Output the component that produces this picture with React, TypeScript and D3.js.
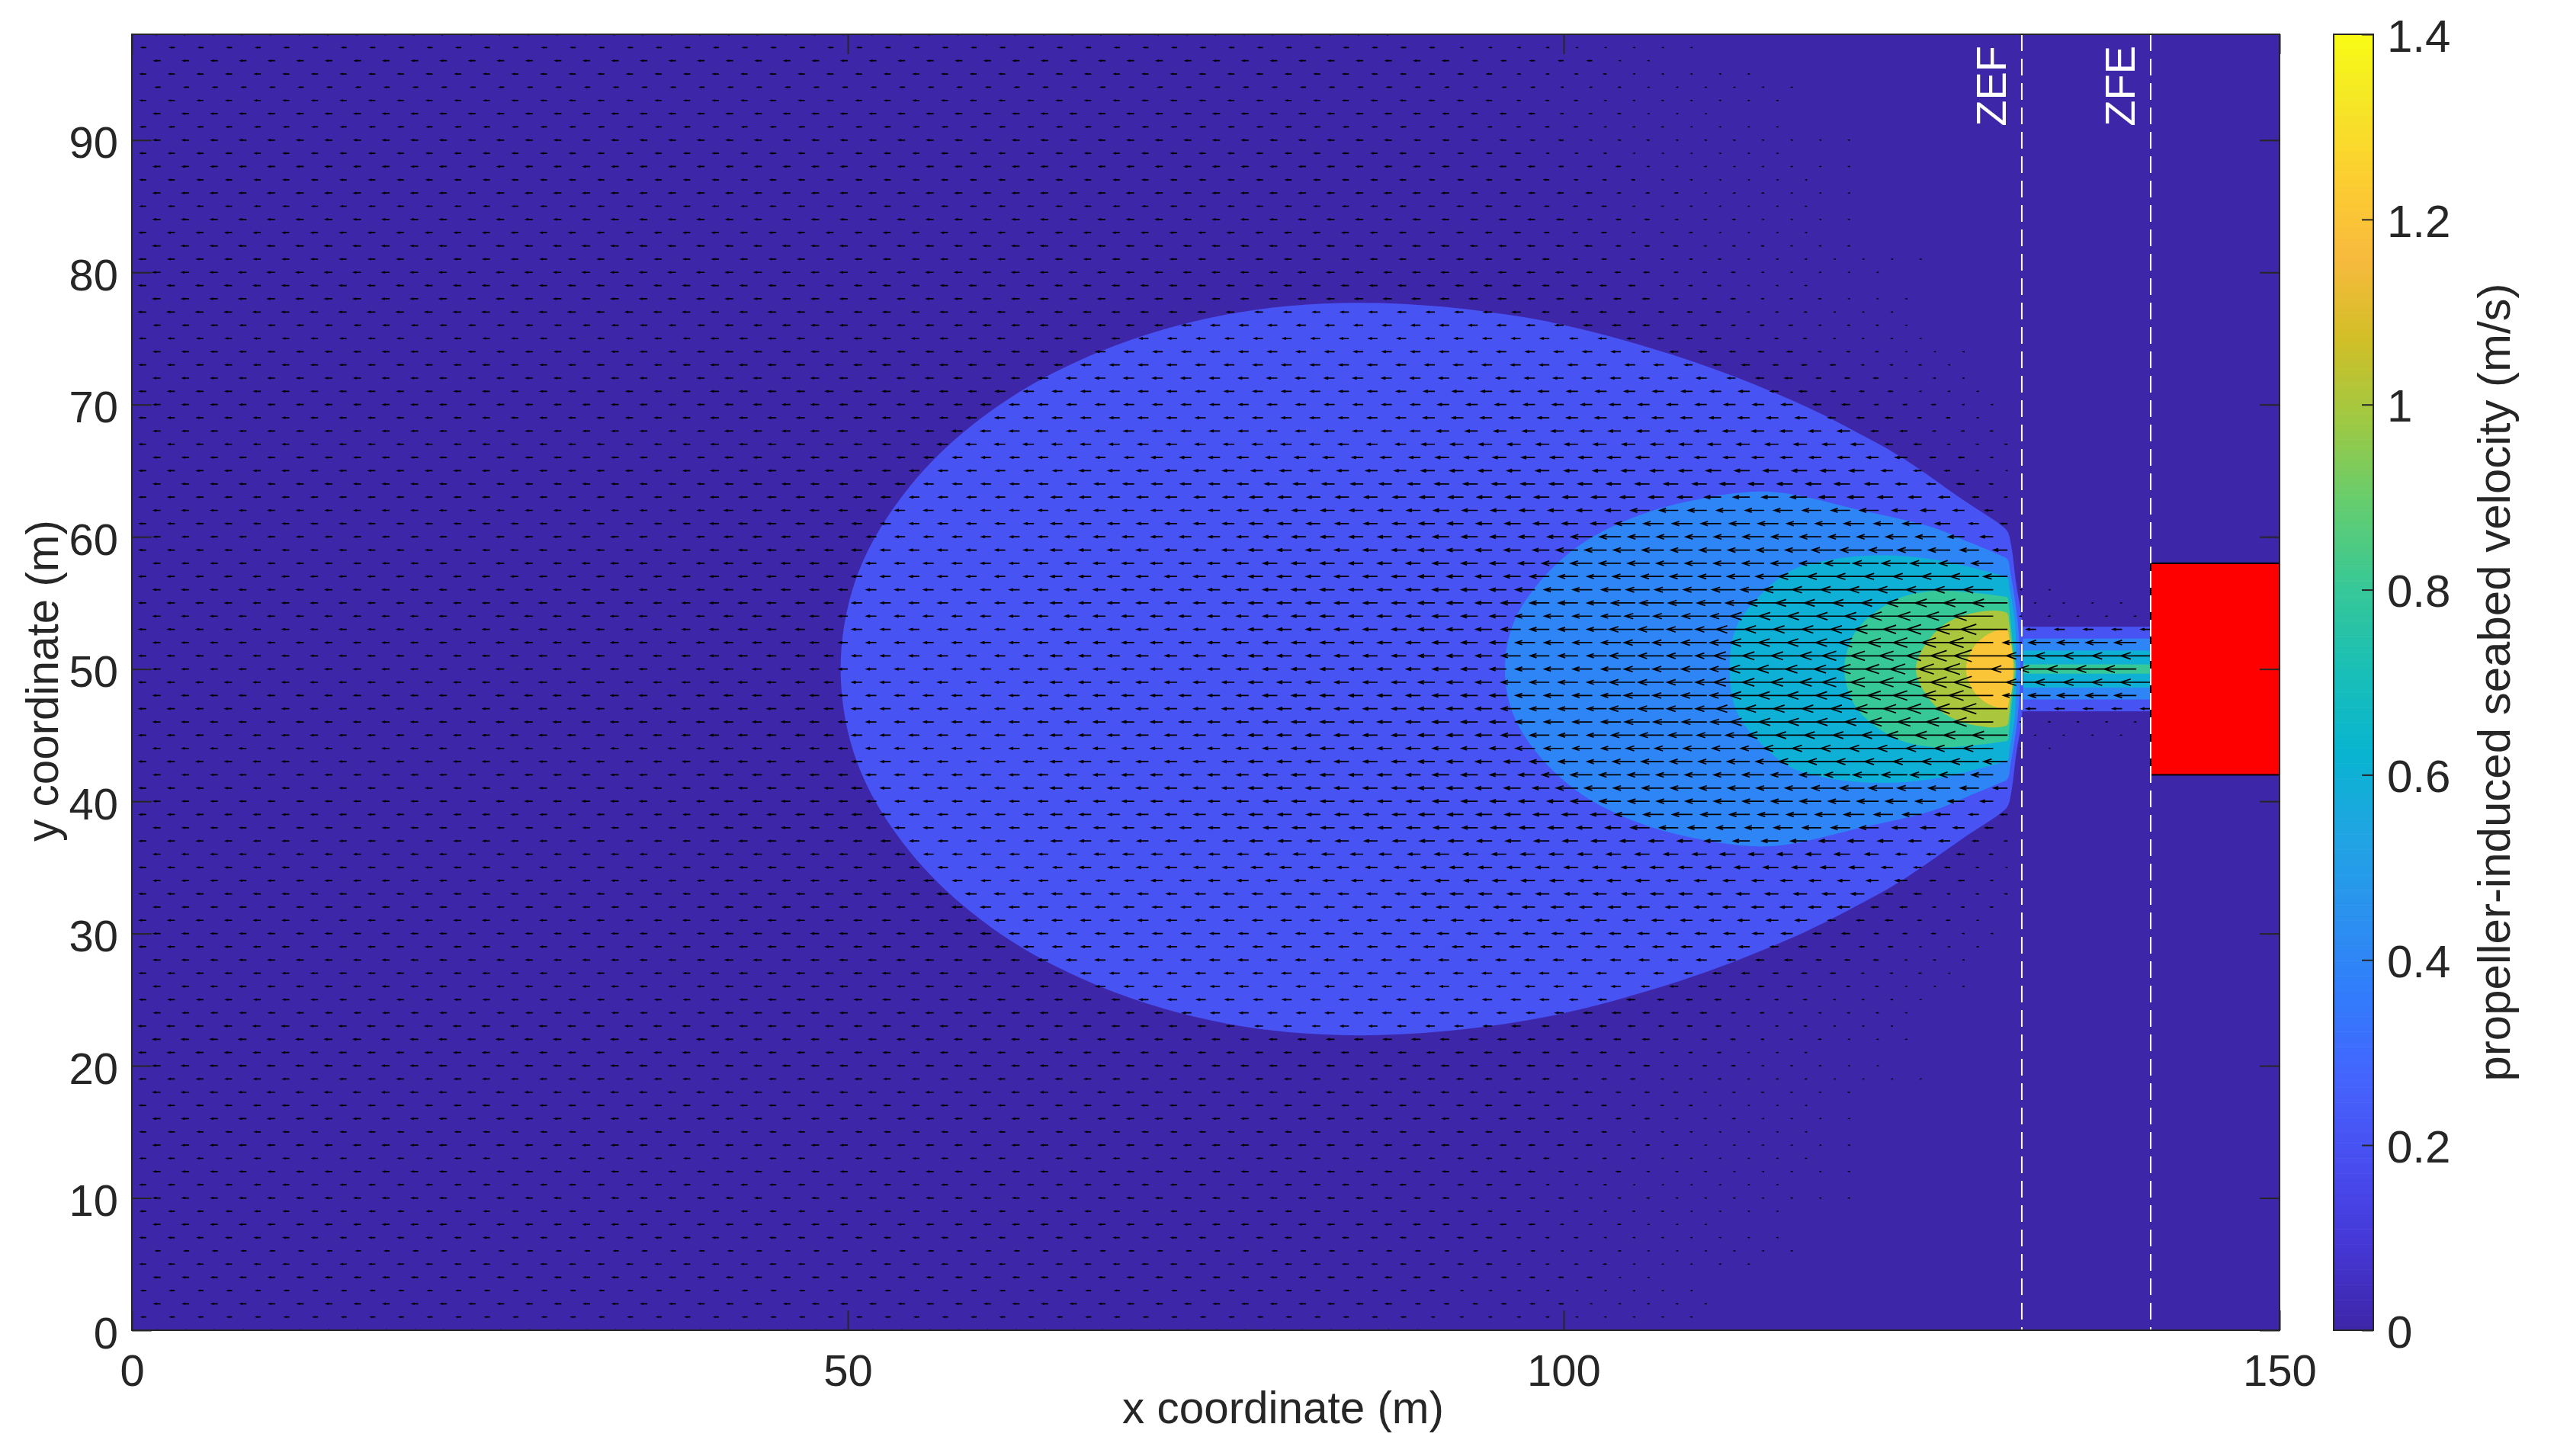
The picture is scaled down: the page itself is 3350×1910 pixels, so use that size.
import React, { useRef, useEffect } from "react";
import * as d3 from "d3";

const xTicks = [0, 50, 100, 150];
const yTicks = [0, 10, 20, 30, 40, 50, 60, 70, 80, 90];
const colorTicks = [0, 0.2, 0.4, 0.6, 0.8, 1, 1.2, 1.4];

// parula, sampled every 4th entry of the 64 colour map
const parula = ["#3E26A8", "#4537D5", "#484DF0", "#4563FD", "#327BFC", "#2B91EF", "#20A5E3", "#08B5D0", "#19BFB6", "#37C897", "#63CD6F", "#9DC943", "#D1BF27", "#F8BA3D", "#FCCF30", "#F5E924", "#F9FB14"];
const parulaPos = [0, 4, 8, 12, 16, 20, 24, 28, 32, 36, 40, 44, 48, 52, 56, 60, 63];

// contour outlines, upper half only (field is symmetric about y = 50): [x, y]
const contour02 = [[49.5, 50], [50.7, 57.2], [54.4, 63.9], [60.1, 69.6], [67.6, 74], [76.4, 76.8], [85.8, 77.7], [97.3, 76.6], [107.5, 73.8], [116, 70.3], [121, 67.6], [123.6, 66], [128.3, 62.5], [130.4, 61], [131, 60.4], [131.25, 59.4], [131.6, 56.5], [132, 53.7], [132.1, 50]];
const contour04 = [[95.9, 50], [96.5, 53.5], [98.4, 56.7], [101.3, 59.5], [105.2, 61.6], [109.7, 62.9], [114.5, 63.4], [120.8, 62], [125.8, 60.7], [128.3, 59.6], [130.5, 58.6], [131, 58.3], [131.2, 57.3], [131.7, 53.7], [131.9, 50]];
const contour06 = [[111.6, 50], [112, 53], [113.3, 55.1], [115.8, 57.4], [118.3, 58.2], [121.8, 58.6], [125.8, 58.3], [130.5, 57.1], [131, 56.9], [131.15, 56], [131.5, 53.7], [131.6, 50]];
const contour08 = [[119.6, 50], [120, 52], [120.8, 53.4], [123.3, 55.3], [125.8, 55.9], [128.3, 55.8], [130.6, 55.5], [131, 55.4], [131.1, 54.8], [131.4, 51.6], [131.6, 50]];
const contour10 = [[124.6, 50], [125.8, 52.6], [127.3, 53.8], [129.6, 54.4], [130.7, 54.35], [131, 54.2], [131.1, 53.6], [131.3, 51.6], [131.5, 50]];
const contour12 = [[128.1, 50], [128.6, 51.6], [129.6, 52.6], [130.7, 53], [131, 52.9], [131.1, 52.4], [131.3, 51.6], [131.4, 50]];
const contours: [number, number[][]][] = [[0.2, contour02], [0.4, contour04], [0.6, contour06], [0.8, contour08], [1, contour10], [1.2, contour12]];

// jet strip between ZEF and ZFE: [level, half width in m]
const stripBands = [[0.2, 3.2], [0.4, 2.3], [0.6, 1.4], [0.8, 0.35]];
const stripX = [131.9, 141];

// arrow speeds along each row, as runs of [last x of the run, speed in m/s].
// First row is y = 50, then y = 51 ... 100; rows below 50 mirror them.
const arrowRows: number[][][] = [
  [[25, 0.17], [40, 0.19], [50, 0.22], [64, 0.25], [78, 0.3], [90, 0.36], [96, 0.42], [104, 0.5], [112, 0.66], [120, 0.94], [125, 1.1], [128, 1.2], [130, 1.3], [132, 0.8], [140, 0.84]],
  [[25, 0.17], [40, 0.19], [50, 0.22], [64, 0.25], [78, 0.3], [90, 0.36], [96, 0.42], [104, 0.5], [112, 0.66], [120, 0.94], [125, 1.1], [127, 1.14], [129, 1.26], [131, 1.4], [141, 0.78]],
  [[25, 0.17], [40, 0.19], [50, 0.22], [64, 0.25], [78, 0.3], [90, 0.36], [96, 0.42], [104, 0.5], [112, 0.66], [120, 0.9], [125, 1.04], [128, 1.12], [130, 1.16], [132, 0.48], [140, 0.56]],
  [[25, 0.17], [40, 0.19], [50, 0.22], [64, 0.25], [78, 0.3], [90, 0.36], [96, 0.42], [104, 0.5], [112, 0.66], [121, 0.88], [126, 1], [129, 1.14], [131, 1.22], [141, 0.24]],
  [[25, 0.17], [40, 0.19], [50, 0.22], [64, 0.25], [78, 0.3], [90, 0.36], [96, 0.42], [104, 0.5], [112, 0.64], [122, 0.88], [128, 1], [130, 1.04], [140, 0.03]],
  [[25, 0.17], [40, 0.19], [50, 0.22], [64, 0.25], [78, 0.3], [90, 0.36], [96, 0.42], [104, 0.5], [113, 0.62], [123, 0.82], [131, 0.92], [139, 0.02]],
  [[25, 0.17], [40, 0.18], [50, 0.22], [64, 0.25], [78, 0.3], [90, 0.36], [97, 0.42], [104, 0.5], [114, 0.6], [122, 0.76], [130, 0.78], [134, 0.01]],
  [[25, 0.17], [40, 0.18], [50, 0.22], [64, 0.25], [78, 0.3], [90, 0.36], [98, 0.42], [104, 0.5], [116, 0.58], [129, 0.74], [131, 0.62]],
  [[25, 0.16], [40, 0.18], [50, 0.22], [64, 0.25], [78, 0.3], [90, 0.36], [99, 0.42], [118, 0.56], [128, 0.66], [130, 0.56]],
  [[25, 0.16], [40, 0.18], [50, 0.21], [64, 0.25], [78, 0.3], [90, 0.36], [100, 0.42], [117, 0.56], [125, 0.62], [127, 0.56], [129, 0.48], [131, 0.36]],
  [[25, 0.16], [40, 0.18], [50, 0.21], [64, 0.24], [78, 0.29], [90, 0.35], [101, 0.41], [124, 0.55], [126, 0.52], [128, 0.42], [130, 0.32]],
  [[40, 0.16], [50, 0.21], [64, 0.24], [78, 0.29], [90, 0.34], [103, 0.4], [121, 0.52], [125, 0.48], [127, 0.38], [129, 0.24], [131, 0.16]],
  [[40, 0.16], [51, 0.21], [64, 0.24], [78, 0.28], [90, 0.34], [105, 0.39], [122, 0.48], [126, 0.38], [128, 0.28], [130, 0.2]],
  [[40, 0.16], [51, 0.2], [64, 0.23], [78, 0.28], [90, 0.33], [110, 0.38], [121, 0.42], [123, 0.38], [125, 0.32], [127, 0.28], [129, 0.14], [131, 0.06]],
  [[40, 0.16], [52, 0.19], [66, 0.23], [78, 0.27], [90, 0.31], [110, 0.36], [120, 0.39], [122, 0.34], [124, 0.28], [126, 0.22], [128, 0.18], [130, 0.08]],
  [[40, 0.16], [53, 0.19], [66, 0.23], [90, 0.29], [110, 0.34], [121, 0.38], [123, 0.28], [125, 0.18], [127, 0.12], [129, 0.05], [131, 0.015]],
  [[40, 0.16], [54, 0.19], [70, 0.23], [90, 0.28], [106, 0.34], [124, 0.3], [128, 0.14], [130, 0.05]],
  [[40, 0.16], [55, 0.19], [90, 0.26], [122, 0.33], [126, 0.18], [131, 0.05]],
  [[40, 0.16], [56, 0.19], [90, 0.25], [120, 0.31], [125, 0.17], [130, 0.06]],
  [[40, 0.16], [57, 0.19], [90, 0.25], [118, 0.29], [123, 0.18], [128, 0.08], [130, 0.03]],
  [[40, 0.16], [59, 0.19], [90, 0.24], [116, 0.28], [121, 0.19], [127, 0.09], [130, 0.03]],
  [[40, 0.16], [60, 0.19], [90, 0.24], [113, 0.27], [118, 0.19], [124, 0.1], [129, 0.03]],
  [[40, 0.16], [62, 0.19], [110, 0.25], [116, 0.19], [122, 0.11], [127, 0.04], [128, 0.02]],
  [[40, 0.16], [65, 0.19], [108, 0.24], [113, 0.19], [119, 0.12], [125, 0.05], [128, 0.02]],
  [[40, 0.16], [67, 0.18], [104, 0.23], [110, 0.19], [116, 0.13], [122, 0.06], [128, 0.02]],
  [[40, 0.15], [70, 0.18], [100, 0.22], [106, 0.19], [112, 0.14], [118, 0.07], [124, 0.03], [126, 0.015]],
  [[40, 0.15], [73, 0.18], [96, 0.22], [104, 0.2], [110, 0.15], [116, 0.08], [122, 0.04], [124, 0.02]],
  [[84, 0.18], [98, 0.2], [106, 0.16], [112, 0.11], [118, 0.05], [124, 0.02]],
  [[84, 0.18], [96, 0.2], [106, 0.16], [112, 0.1], [118, 0.05], [125, 0.02]],
  [[86, 0.17], [98, 0.18], [106, 0.15], [112, 0.07], [118, 0.03]],
  [[90, 0.18], [100, 0.18], [106, 0.13], [112, 0.08], [118, 0.03], [122, 0.015]],
  [[88, 0.16], [100, 0.15], [106, 0.1], [112, 0.05], [118, 0.03], [125, 0.015]],
  [[92, 0.18], [102, 0.17], [108, 0.1], [114, 0.05], [120, 0.03]],
  [[88, 0.16], [98, 0.15], [104, 0.11], [110, 0.06], [118, 0.02]],
  [[90, 0.17], [100, 0.16], [106, 0.1], [112, 0.05], [120, 0.02]],
  [[88, 0.14], [98, 0.14], [104, 0.1], [110, 0.04], [118, 0.02]],
  [[92, 0.17], [102, 0.14], [108, 0.07], [114, 0.03], [120, 0.02]],
  [[90, 0.14], [99, 0.12], [105, 0.07], [110, 0.03], [118, 0.015]],
  [[88, 0.16], [98, 0.15], [104, 0.1], [110, 0.04], [120, 0.02]],
  [[90, 0.14], [98, 0.12], [104, 0.05], [115, 0.02]],
  [[88, 0.16], [96, 0.14], [100, 0.1], [106, 0.05], [112, 0.03], [120, 0.02]],
  [[84, 0.13], [94, 0.12], [102, 0.08], [108, 0.04], [115, 0.02]],
  [[90, 0.16], [98, 0.14], [104, 0.06], [110, 0.02]],
  [[88, 0.14], [96, 0.13], [102, 0.07], [108, 0.03], [115, 0.02]],
  [[90, 0.11], [98, 0.08], [104, 0.04], [116, 0.02]],
  [[86, 0.14], [96, 0.12], [104, 0.06], [113, 0.02]],
  [[92, 0.15], [103, 0.11], [106, 0.02]],
  [[92, 0.11], [100, 0.05], [109, 0.02]],
  [[88, 0.15], [100, 0.1], [110, 0.03]],
  [[90, 0.11], [100, 0.06], [110, 0.03]],
  [[90, 0.11], [100, 0.06], [108, 0.02]],
];

const redBox = { x: [141, 150], y: [42, 58] };
const zones = [{ label: "ZEF", x: 132 }, { label: "ZFE", x: 141 }];

const width = 3350;
const height = 1910;
const plot = { left: 173, right: 2990, top: 45, bottom: 1745 };
const bar = { left: 3061, right: 3113 };
const ink = "#262626";
const font = "'Liberation Sans', Arial, sans-serif";
const arrowScale = 50; // px per m/s

export default function App() {
  const ref = useRef<SVGSVGElement>(null);

  useEffect(() => {
    const svg = d3.select(ref.current);
    svg.selectAll("*").remove();

    const x = d3.scaleLinear().domain([0, 150]).range([plot.left, plot.right]);
    const y = d3.scaleLinear().domain([0, 98]).range([plot.bottom, plot.top]);
    const c = d3.scaleLinear().domain([0, 1.4]).range([plot.bottom, plot.top]);
    const color = d3.scaleLinear<string>()
      .domain(parulaPos.map(p => (p / 63) * 1.4))
      .range(parula)
      .interpolate(d3.interpolateRgb);

    svg.append("clipPath").attr("id", "plot-clip").append("rect")
      .attr("x", plot.left).attr("y", plot.top)
      .attr("width", plot.right - plot.left).attr("height", plot.bottom - plot.top);

    const g = svg.append("g").attr("clip-path", "url(#plot-clip)");

    g.append("rect")
      .attr("x", plot.left).attr("y", plot.top)
      .attr("width", plot.right - plot.left).attr("height", plot.bottom - plot.top)
      .attr("fill", color(0));

    // filled contours
    const outline = d3.line<number[]>()
      .x(d => x(d[0]))
      .y(d => y(d[1]))
      .curve(d3.curveCatmullRomClosed.alpha(0.5));

    stripBands.forEach(([level, half]) => {
      g.append("rect")
        .attr("x", x(stripX[0])).attr("y", y(50 + half))
        .attr("width", x(stripX[1]) - x(stripX[0]))
        .attr("height", y(50 - half) - y(50 + half))
        .attr("fill", color(level));
    });

    contours.forEach(([level, half]) => {
      const mirrored = half.slice(1, -1).reverse().map(p => [p[0], 100 - p[1]]);
      g.append("path")
        .attr("d", outline([...half, ...mirrored]))
        .attr("fill", color(level));
    });

    // quiver, staggered grid: even x on even rows, odd x on odd rows
    const arrows = d3.path();
    arrowRows.forEach((runs, i) => {
      const row = 50 + i;
      const sides = row === 50 ? [row] : [row, 100 - row];
      let from = row % 2 === 0 ? 2 : 1;
      runs.forEach(([last, speed]) => {
        for (; from <= last; from += 2) {
          const len = speed * arrowScale;
          sides.forEach(r => {
            const tail = x(from);
            const py = y(r);
            const tip = tail - len;
            arrows.moveTo(tail, py);
            arrows.lineTo(tip, py);
            arrows.moveTo(tip + 0.33 * len, py - 0.11 * len);
            arrows.lineTo(tip, py);
            arrows.lineTo(tip + 0.33 * len, py + 0.11 * len);
          });
        }
      });
    });
    g.append("path")
      .attr("d", arrows.toString())
      .attr("fill", "none")
      .attr("stroke", "#000")
      .attr("stroke-width", 1.7);

    g.append("rect")
      .attr("x", x(redBox.x[0])).attr("y", y(redBox.y[1]))
      .attr("width", x(redBox.x[1]) - x(redBox.x[0]))
      .attr("height", y(redBox.y[0]) - y(redBox.y[1]))
      .attr("fill", "#FF0000")
      .attr("stroke", "#000")
      .attr("stroke-width", 2);

    zones.forEach(z => {
      g.append("line")
        .attr("x1", x(z.x)).attr("x2", x(z.x))
        .attr("y1", plot.top).attr("y2", plot.bottom)
        .attr("stroke", "#fff")
        .attr("stroke-width", 2)
        .attr("stroke-dasharray", "22 10");
      g.append("text")
        .attr("transform", `translate(${x(z.x) - 21},60) rotate(-90)`)
        .attr("text-anchor", "end")
        .attr("font-family", font)
        .attr("font-size", 56)
        .attr("fill", "#fff")
        .text(z.label);
    });

    // axes with inward ticks on all four sides
    const styleAxis = (sel: any, size: number) => {
      sel.attr("font-family", font).attr("font-size", size).attr("color", ink);
      sel.select(".domain").remove();
      sel.selectAll("line").attr("stroke-width", 2);
    };

    svg.append("g")
      .attr("transform", `translate(0,${plot.bottom})`)
      .call(d3.axisBottom(x).tickValues(xTicks).tickSizeInner(-26).tickSizeOuter(0).tickPadding(32).tickFormat(String as any))
      .call(styleAxis, 58);
    svg.append("g")
      .attr("transform", `translate(0,${plot.top})`)
      .call(d3.axisTop(x).tickValues(xTicks).tickSizeInner(-26).tickSizeOuter(0).tickFormat(() => ""))
      .call(styleAxis, 58);
    svg.append("g")
      .attr("transform", `translate(${plot.left},0)`)
      .call(d3.axisLeft(y).tickValues(yTicks).tickSizeInner(-26).tickSizeOuter(0).tickPadding(18).tickFormat(String as any))
      .call(styleAxis, 58)
      .call((sel: any) => sel.selectAll("text").attr("dy", "0.4em"));
    svg.append("g")
      .attr("transform", `translate(${plot.right},0)`)
      .call(d3.axisRight(y).tickValues(yTicks).tickSizeInner(-26).tickSizeOuter(0).tickFormat(() => ""))
      .call(styleAxis, 58);

    svg.append("rect")
      .attr("x", plot.left).attr("y", plot.top)
      .attr("width", plot.right - plot.left).attr("height", plot.bottom - plot.top)
      .attr("fill", "none").attr("stroke", ink).attr("stroke-width", 2);

    // colour bar
    const steps = d3.range(0, 1.4, 1.4 / 256);
    svg.append("g").selectAll("rect").data(steps).join("rect")
      .attr("x", bar.left)
      .attr("width", bar.right - bar.left)
      .attr("y", d => c(d + 1.4 / 256))
      .attr("height", c(0) - c(1.4 / 256) + 0.6)
      .attr("fill", d => color(d));
    svg.append("g")
      .attr("transform", `translate(${bar.right},0)`)
      .call(d3.axisRight(c).tickValues(colorTicks).tickSizeInner(-15).tickSizeOuter(0).tickPadding(18).tickFormat(String as any))
      .call(styleAxis, 60)
      .call((sel: any) => sel.selectAll("text").attr("dy", "0.37em"));
    svg.append("rect")
      .attr("x", bar.left).attr("y", plot.top)
      .attr("width", bar.right - bar.left).attr("height", plot.bottom - plot.top)
      .attr("fill", "none").attr("stroke", ink).attr("stroke-width", 2);

    // axis titles
    const title = (tx: number, ty: number, rot: number, size: number, s: string) =>
      svg.append("text")
        .attr("transform", `translate(${tx},${ty}) rotate(${rot})`)
        .attr("text-anchor", "middle")
        .attr("font-family", font)
        .attr("font-size", size)
        .attr("fill", ink)
        .text(s);
    title(1683, 1867, 0, 58.4, "x coordinate (m)");
    title(76, 893, -90, 58.4, "y coordinate (m)");
    title(3292, 895, -90, 60, "propeller-induced seabed velocity (m/s)");
  }, []);

  return <svg ref={ref} width={width} height={height} style={{ position: "absolute", left: 0, top: 0, background: "#fff" }}></svg>;
}
